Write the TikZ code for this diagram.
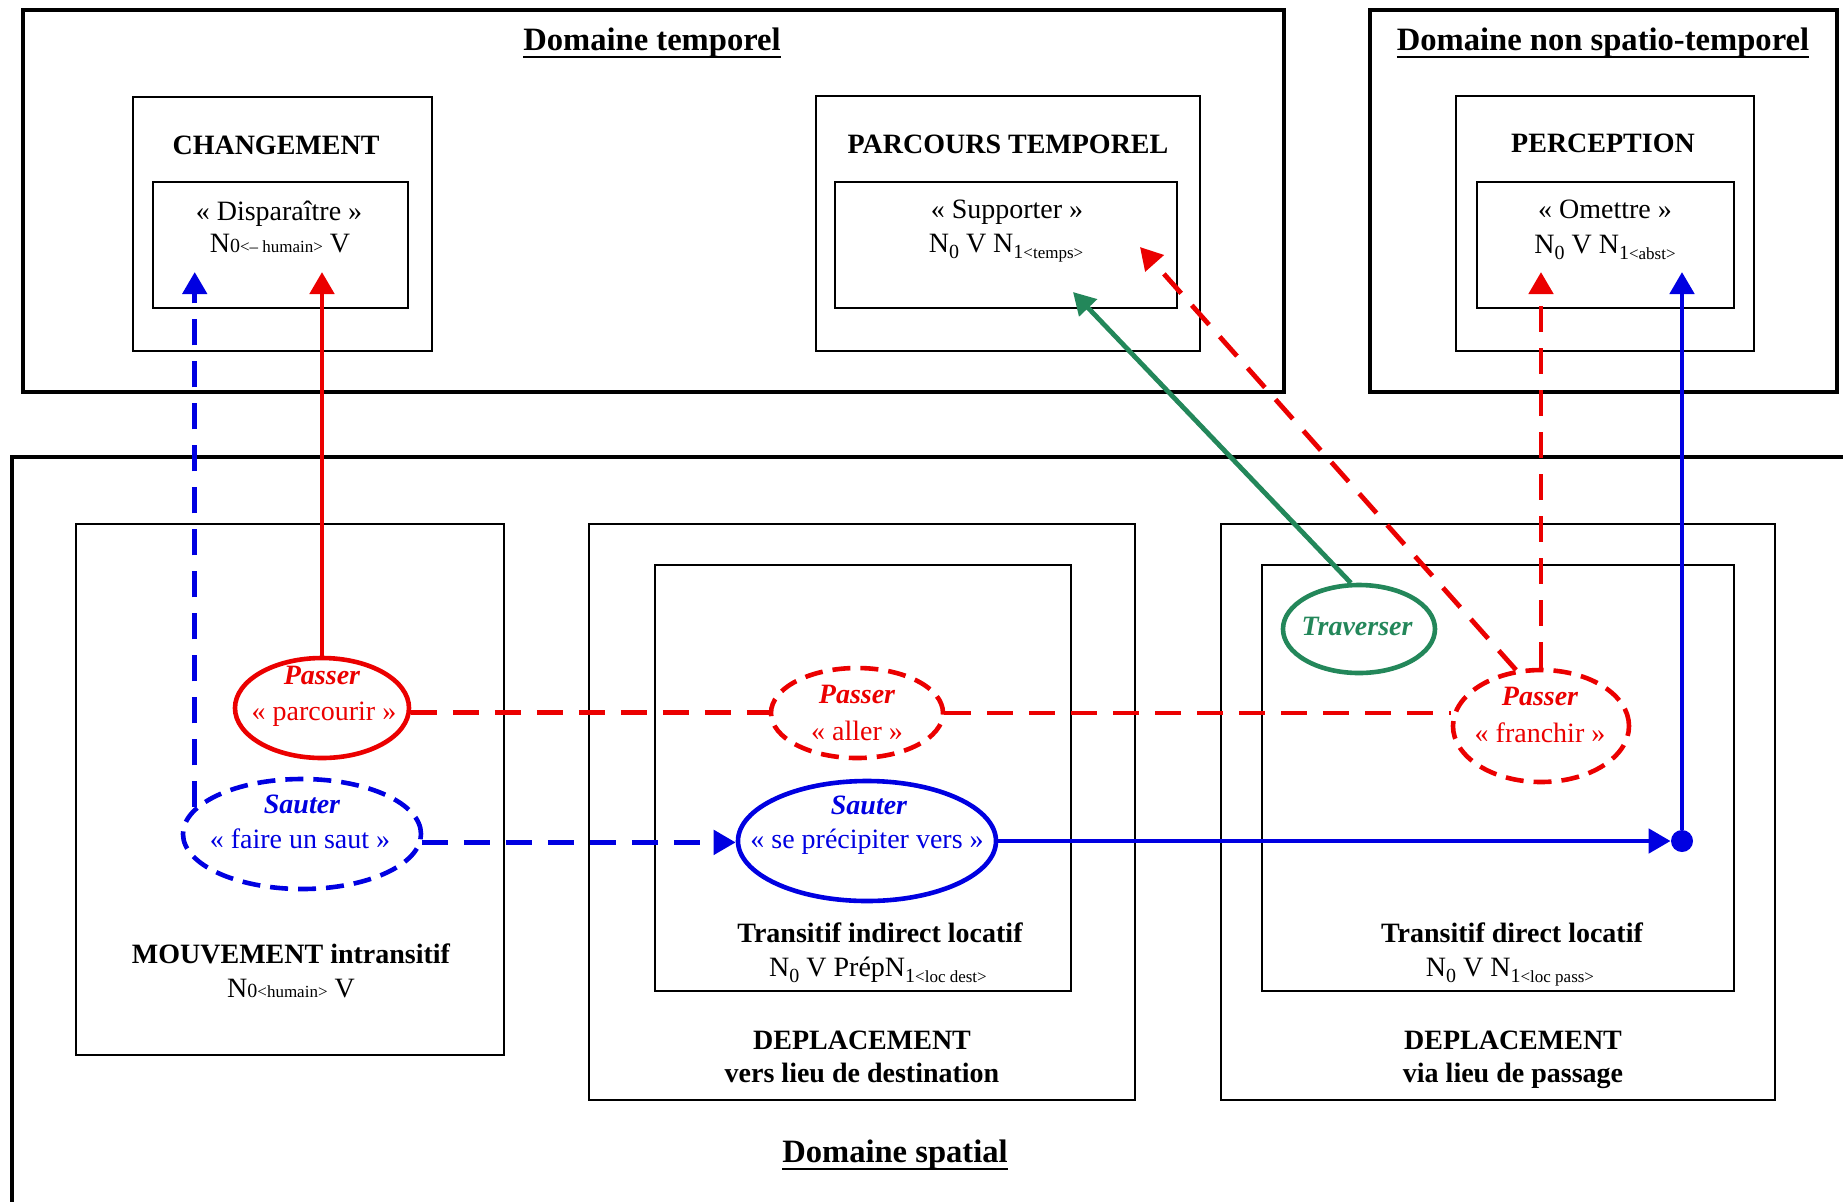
\documentclass[tikz,border=0pt]{standalone}
\usepackage{fontspec}
\setmainfont{Liberation Serif}
\usetikzlibrary{shapes.geometric,arrows.meta,positioning,calc}

\definecolor{vrouge}{RGB}{235,0,0}
\definecolor{vbleu}{RGB}{0,0,225}
\definecolor{vvert}{RGB}{35,135,90}

\newcommand{\Ind}[1]{\raisebox{-3pt}{\fontsize{10}{10}\selectfont #1}}
\newcommand{\Petit}[1]{{\fontsize{10}{10}\selectfont #1}}
\newcommand{\Trait}[1]{{\fontsize{8.5}{9}\selectfont #1}}
\newsavebox\soulbox
\newcommand{\Souligne}[1]{\sbox\soulbox{#1}\rlap{\rule[-4.2pt]{\wd\soulbox}{1.2pt}}\usebox\soulbox}

\begin{document}
\begin{tikzpicture}[x=0.5pt, y=-0.5pt,
  box/.style={draw, line width=0.9pt},
  domaine/.style={draw, line width=1.6pt},
  txt/.style={inner sep=0pt, anchor=base, font=\fontsize{14}{16}\selectfont},
  gras/.style={txt, font=\fontsize{14}{16}\selectfont\bfseries},
  titre/.style={txt, font=\fontsize{16.3}{18}\selectfont\bfseries},
  verbe/.style={txt, font=\fontsize{14}{16}\selectfont\bfseries\itshape},
  sens/.style={ellipse, draw, line width=2.3pt, inner sep=0pt},
  tirets/.style={dash pattern=on 13pt off 8pt},
  ptirets/.style={dash pattern=on 9pt off 5pt},
  lien/.style={line width=2.4pt},
  fleche/.style={-{Triangle[length=11pt,width=12pt]}}]

\path[use as bounding box, fill=white] (0,0) rectangle (1843,1201);

% Domaine temporel
\draw[domaine] (23,10) rectangle (1284,392);
\node[titre] (tTemp) at (652,50) {\Souligne{Domaine temporel}};

% CHANGEMENT
\draw[box] (133,97) rectangle (432,351);
\draw[box] (153,182) rectangle (408,308);
\node[gras] (tChg) at (276,154) {CHANGEMENT};
\node[txt] (dispa) at (279,220) {« Disparaître »};
\node[txt] (dispaN) at (280,252) {N\Petit{0}\Trait{<– humain>} V};

% PARCOURS TEMPOREL
\draw[box] (816,96) rectangle (1200,351);
\draw[box] (835,182) rectangle (1177,308);
\node[gras] (tPar) at (1008,153) {PARCOURS TEMPOREL};
\node[txt] (suppo) at (1007,218) {« Supporter »};
\node[txt] (suppoN) at (1006,252) {N\Ind{0} V N\Ind{1\Trait{<temps>}}};

% Domaine non spatio-temporel
\draw[domaine] (1370,10) rectangle (1837,392);
\node[titre] (tNst) at (1603,50) {\Souligne{Domaine non spatio-temporel}};
\draw[box] (1456,96) rectangle (1754,351);
\draw[box] (1477,182) rectangle (1734,308);
\node[gras] (tPer) at (1603,152) {PERCEPTION};
\node[txt] (omet) at (1605,218) {« Omettre »};
\node[txt] (ometN) at (1605,253) {N\Ind{0} V N\Ind{1\Trait{<abst>}}};

% Domaine spatial
\draw[domaine] (12,457) rectangle (1880,1230);
\node[titre] (tSpa) at (895,1162) {\Souligne{Domaine spatial}};

% MOUVEMENT intransitif
\draw[box] (76,524) rectangle (504,1055);
\node[gras] (tMvt) at (291,963) {MOUVEMENT intransitif};
\node[txt] (mvtN) at (291,997) {N\Petit{0}\Trait{<humain>} V};

% DEPLACEMENT vers lieu de destination
\draw[box] (589,524) rectangle (1135,1100);
\draw[box] (655,565) rectangle (1071,991);
\node[gras] (tInd) at (880,942) {Transitif indirect locatif};
\node[txt] (indN) at (878,976) {N\Ind{0} V PrépN\Ind{1\Trait{<loc dest>}}};
\node[gras] (tDest) at (862,1049) {DEPLACEMENT};
\node[gras] (tDest2) at (862,1082) {vers lieu de destination};

% DEPLACEMENT via lieu de passage
\draw[box] (1221,524) rectangle (1775,1100);
\draw[box] (1262,565) rectangle (1734,991);
\node[gras] (tDir) at (1512,942) {Transitif direct locatif};
\node[txt] (dirN) at (1510,976) {N\Ind{0} V N\Ind{1\Trait{<loc pass>}}};
\node[gras] (tPass) at (1513,1049) {DEPLACEMENT};
\node[gras] (tPass2) at (1513,1082) {via lieu de passage};

% Passer
\node[sens, vrouge, minimum width=87pt, minimum height=50pt] (parc) at (322,708) {};
\node[verbe, vrouge] (parcV) at (322,684) {Passer};
\node[txt, vrouge] (parcS) at (324,720) {« parcourir »};
\node[sens, vrouge, ptirets, minimum width=86pt, minimum height=45pt] (aller) at (857,713) {};
\node[verbe, vrouge] (allerV) at (857,703) {Passer};
\node[txt, vrouge] (allerS) at (857,740) {« aller »};
\node[sens, vrouge, ptirets, minimum width=88pt, minimum height=56pt] (fran) at (1541,726) {};
\node[verbe, vrouge] (franV) at (1540,705) {Passer};
\node[txt, vrouge] (franS) at (1540,742) {« franchir »};

% Sauter
\node[sens, vbleu, ptirets, minimum width=119pt, minimum height=55pt] (saut) at (302,834) {};
\node[verbe, vbleu] (sautV) at (302,813) {Sauter};
\node[txt, vbleu] (sautS) at (300,848) {« faire un saut »};
\node[sens, vbleu, minimum width=129pt, minimum height=60pt] (prec) at (867,841) {};
\node[verbe, vbleu] (precV) at (869,814) {Sauter};
\node[txt, vbleu] (precS) at (867,848) {« se précipiter vers »};
\node[circle, fill=vbleu, inner sep=0pt, minimum size=11pt] (pdot) at (1682,841) {};

% Traverser
\node[sens, vvert, minimum width=76pt, minimum height=44pt] (trav) at (1359,629) {};
\node[verbe, vvert] (travV) at (1357,635) {Traverser};

% Points d'arrivee
\coordinate (chgB) at (196,272);
\coordinate (chgR) at (322,272);
\coordinate (parV) at (1073,292);
\coordinate (parR) at (1140,247);
\coordinate (perR) at (1541,272);
\coordinate (perB) at (1682,272);

% Liens
\draw[lien, vrouge, fleche] (parc.north) -- (chgR);
\draw[lien, vbleu, tirets, fleche] (saut.166) -- (saut.166 |- chgB);
\draw[lien, vvert, fleche] (trav.100) -- (parV);
\draw[lien, vrouge, tirets, fleche] (fran.114) -- (parR);
\draw[lien, vrouge, tirets, fleche] (fran.north) -- (perR);
\draw[lien, vbleu, fleche] (pdot) -- (perB);
\draw[lien, vrouge, tirets] (parc.-3) -- (parc.-3 -| aller.west);
\draw[lien, vrouge, tirets] (aller.east) -- (aller.east -| fran.west);
\draw[lien, vbleu, tirets, fleche] (saut.-4) -- (saut.-4 -| prec.west);
\draw[lien, vbleu, fleche] (prec.east) -- (pdot);

\end{tikzpicture}
\end{document}
